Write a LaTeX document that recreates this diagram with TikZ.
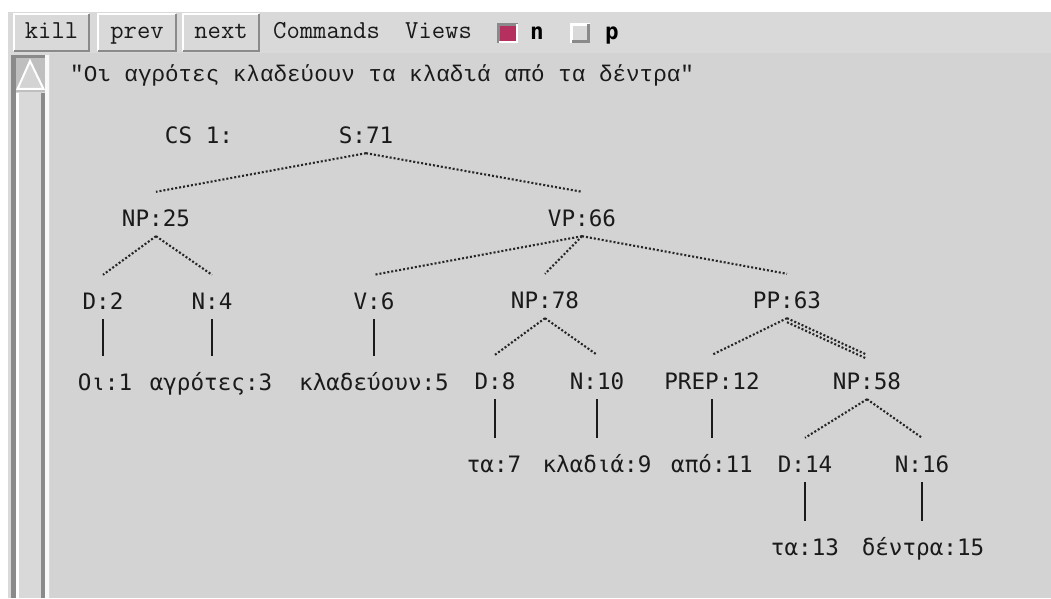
\documentclass[tikz,border=0pt]{standalone}
\usepackage{fontspec}
\newfontfamily\sentfont{Liberation Mono}
\newfontfamily\treefont{DejaVu Sans Mono}
\definecolor{barbg}{HTML}{D9D9D9}
\definecolor{panelbg}{HTML}{D3D3D3}
\definecolor{bevdark}{HTML}{8A8A8A}
\definecolor{checkon}{HTML}{B5305F}
\definecolor{ink}{HTML}{1A1A1A}
\tikzset{
  btn/.style={fill=barbg, inner sep=0pt, text height=13pt, text depth=0pt,
    minimum height=38pt, font=\ttfamily\fontsize{25.9}{27}\selectfont, text=ink},
  uitext/.style={anchor=base west, inner sep=0pt, font=\ttfamily\fontsize{25.9}{27}\selectfont, text=ink},
  senttext/.style={anchor=base west, inner sep=0pt, font=\sentfont\fontsize{22.6}{24}\selectfont, text=ink},
  tnode/.style={anchor=base, inner sep=0pt, text height=34pt, text depth=10pt,
    font=\treefont\fontsize{22.6}{24}\selectfont, text=ink},
  dotedge/.style={draw=black!85, line width=2.1pt, dash pattern=on 2pt off 2pt},
  leafedge/.style={draw=ink, line width=2pt},
}
\begin{document}
\begin{tikzpicture}[x=1pt, y=-1pt]
\useasboundingbox (0,0) rectangle (1051,599);
\fill[white] (0,0) rectangle (1051,599);
% toolbar and tree panel
\fill[barbg] (8,12) rectangle (1051,53);
\fill[panelbg] (8,53) rectangle (1051,598);

% scrollbar
\fill[barbg] (8,53) rectangle (50,598);
\fill[bevdark] (11,55) rectangle (16,598);
\fill[white!85!barbg] (45,55) rectangle (49,598);
\fill[white] (16,93) rectangle (19,598);
\fill[bevdark] (41,93) rectangle (45,598);
\fill[bevdark] (11,55) rectangle (45,58);
\fill[black!25] (16,58) rectangle (45,92);
\filldraw[fill=panelbg, draw=white, line width=2pt, line join=miter]
  (30,61) -- (17.5,89) -- (43.5,89) -- cycle;

% command buttons
\node[btn, minimum width=77pt] (kill) at (51.5,32.5) {kill};
\node[btn, minimum width=80pt] (prev) at (137,32.5) {prev};
\node[btn, minimum width=78pt] (next) at (221,32.5) {next};
\foreach \b in {kill,prev,next}{
  \draw[white, line width=2pt] ([shift={(1pt,1pt)}]\b.south west) |- ([shift={(-1pt,-1pt)}]\b.north east);
  \draw[bevdark, line width=2pt] ([shift={(-1pt,-1pt)}]\b.north east) |- ([shift={(1pt,1pt)}]\b.south west);
}
\node[uitext] (cmds) at (273,39) {Commands};
\node[uitext] (views) at (405,39) {Views};

% view toggles
\fill[checkon] (497,23) rectangle (518,43);
\draw[bevdark, line width=3pt] (498.5,43) -- (498.5,24.5) -- (518,24.5);
\draw[white, line width=2pt] (499,42) -- (517,42) -- (517,24);
\node[anchor=base west, inner sep=0pt, font=\treefont\bfseries\fontsize{22.6}{24}\selectfont] (vn) at (530,40) {n};
\fill[barbg] (570,23) rectangle (590,43);
\draw[white, line width=3pt] (571.5,43) -- (571.5,24.5) -- (590,24.5);
\draw[bevdark, line width=3pt] (572,41.5) -- (588.5,41.5) -- (588.5,24);
\node[anchor=base west, inner sep=0pt, font=\treefont\bfseries\fontsize{22.6}{24}\selectfont] (vp) at (605,40) {p};

% sentence
\node[senttext] (sent) at (70,82) {"Οι αγρότες κλαδεύουν τα κλαδιά από τα δέντρα"};

% parse tree
\node[tnode] (cs) at (199,143) {CS 1:};
\node[tnode] (s71) at (366,143) {S:71};
\node[tnode] (np25) at (156,226) {NP:25};
\node[tnode] (vp66) at (582,226) {VP:66};
\node[tnode] (d2) at (103,309) {D:2};
\node[tnode] (n4) at (212,309) {N:4};
\node[tnode] (v6) at (374,309) {V:6};
\node[tnode] (np78) at (545,308) {NP:78};
\node[tnode] (pp63) at (787,308) {PP:63};
\node[tnode] (oi1) at (105,390) {Οι:1};
\node[tnode] (agr3) at (211,390) {αγρότες:3};
\node[tnode] (klad5) at (374,390) {κλαδεύουν:5};
\node[tnode] (d8) at (495,389) {D:8};
\node[tnode] (n10) at (597,389) {N:10};
\node[tnode] (prep12) at (712,389) {PREP:12};
\node[tnode] (np58) at (867,389) {NP:58};
\node[tnode] (ta7) at (494,472) {τα:7};
\node[tnode] (kladia9) at (597,472) {κλαδιά:9};
\node[tnode] (apo11) at (712,472) {από:11};
\node[tnode] (d14) at (805,472) {D:14};
\node[tnode] (n16) at (922,472) {N:16};
\node[tnode] (ta13) at (805,555) {τα:13};
\node[tnode] (dentra15) at (923,555) {δέντρα:15};

% phrase-level branches (dotted)
\foreach \p/\c in {s71/np25, s71/vp66, np25/d2, np25/n4, vp66/v6, vp66/np78,
                   vp66/pp63, np78/d8, np78/n10, pp63/prep12, pp63/np58,
                   np58/d14, np58/n16}{
  \draw[dotedge] (\p.south) -- (\c.north);
}
\draw[dotedge] ([yshift=-4pt]pp63.south) -- ([yshift=-4pt]np58.north);

% lexical branches (solid)
\foreach \p/\c in {d2/oi1, n4/agr3, v6/klad5, d8/ta7, n10/kladia9,
                   prep12/apo11, d14/ta13, n16/dentra15}{
  \draw[leafedge] (\p.south) -- (\p.south |- \c.north);
}
\end{tikzpicture}
\end{document}
